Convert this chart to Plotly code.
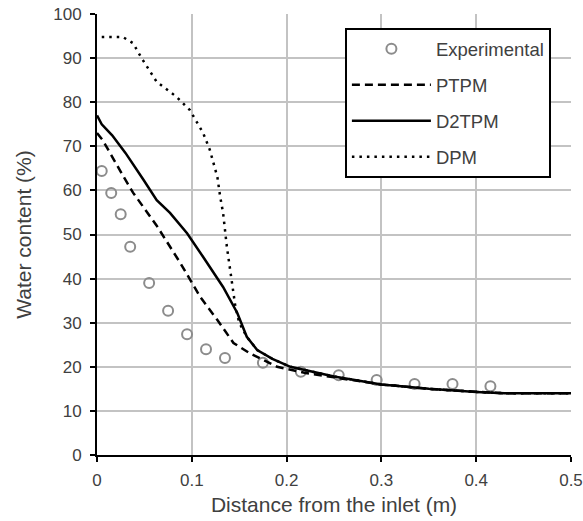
import plotly.graph_objects as go

exp_x = [0.005, 0.015, 0.025, 0.035, 0.055, 0.075, 0.095, 0.115, 0.135, 0.175, 0.215, 0.255, 0.295, 0.335, 0.375, 0.415]
exp_y = [64.4, 59.4, 54.6, 47.2, 39.0, 32.7, 27.4, 24.0, 22.0, 20.9, 18.9, 18.1, 17.0, 16.1, 16.1, 15.6]

ptpm_x = [0, 0.006, 0.027, 0.038, 0.063, 0.088, 0.109, 0.127, 0.144, 0.161, 0.19, 0.22, 0.25, 0.3, 0.35, 0.4, 0.43, 0.5]
ptpm_y = [73, 71.4, 63.5, 59.5, 52.0, 43.5, 35.8, 30.6, 25.4, 23.1, 20.0, 18.6, 17.6, 16.0, 15.0, 14.3, 14.0, 14.0]

d2tpm_x = [0, 0.005, 0.016, 0.03, 0.049, 0.063, 0.077, 0.095, 0.112, 0.133, 0.148, 0.158, 0.169, 0.185, 0.204, 0.25, 0.3, 0.35, 0.4, 0.43, 0.5]
d2tpm_y = [77, 75, 72.5, 68.5, 62.4, 57.8, 54.9, 50.3, 44.9, 38.1, 32.2, 26.8, 23.8, 21.8, 20.0, 17.8, 16.0, 15.0, 14.3, 14.0, 14.0]

dpm_x = [0.005, 0.027, 0.038, 0.047, 0.063, 0.084, 0.098, 0.112, 0.119, 0.127, 0.13, 0.133, 0.137, 0.142, 0.146, 0.15, 0.158, 0.169, 0.185, 0.204, 0.25, 0.3, 0.35, 0.4, 0.43, 0.5]
dpm_y = [94.8, 94.8, 93.4, 90.0, 84.6, 81.2, 78.2, 73.0, 69.2, 63.0, 58.5, 54.9, 47.2, 39.7, 33.6, 30.0, 26.8, 23.8, 21.8, 20.0, 17.8, 16.0, 15.0, 14.3, 14.0, 14.0]

x_ticks = [0, 0.1, 0.2, 0.3, 0.4, 0.5]
x_tick_text = ["0", "0.1", "0.2", "0.3", "0.4", "0.5"]
y_ticks = [0, 10, 20, 30, 40, 50, 60, 70, 80, 90, 100]

FONT = "Liberation Sans, Arial, sans-serif"
TXT = "#404040"
GRID = "#c3c3c3"

fig = go.Figure()
fig.add_trace(go.Scatter(x=exp_x, y=exp_y, mode="markers", name="Experimental", legendgroup="a",
                         marker=dict(symbol="circle-open", size=10, color="#8c8c8c",
                                     line=dict(width=2, color="#8c8c8c"))))
fig.add_trace(go.Scatter(x=ptpm_x, y=ptpm_y, mode="lines", name="PTPM", legendgroup="b",
                         line=dict(color="black", width=2.5, dash="8px,5px")))
fig.add_trace(go.Scatter(x=d2tpm_x, y=d2tpm_y, mode="lines", name="D2TPM", legendgroup="c",
                         line=dict(color="black", width=2.5)))
fig.add_trace(go.Scatter(x=dpm_x, y=dpm_y, mode="lines", name="DPM", legendgroup="d",
                         line=dict(color="black", width=2.5, dash="2.5px,5px")))

tick_font = dict(family=FONT, size=17, color=TXT)
fig.update_layout(
    width=583, height=521,
    margin=dict(l=97, r=12, t=14, b=66),
    plot_bgcolor="white", paper_bgcolor="white",
    font=dict(family=FONT, size=17, color=TXT),
    showlegend=True,
    legend=dict(x=0.523, y=0.968, xanchor="left", yanchor="top",
                bordercolor="black", borderwidth=2, bgcolor="white",
                itemwidth=79, tracegroupgap=9,
                font=dict(family=FONT, size=18.5, color=TXT)),
    xaxis=dict(range=[0, 0.5], tickvals=x_ticks, ticktext=x_tick_text, automargin=False,
               showgrid=True, gridcolor=GRID, gridwidth=2,
               showline=True, linecolor="black", linewidth=2,
               ticks="outside", ticklen=5, tickcolor="black", tickwidth=2,
               tickfont=tick_font, zeroline=False, ticklabelstandoff=4,
               title=dict(text="Distance from the inlet (m)", font=dict(family=FONT, size=21, color=TXT),
                          standoff=8)),
    yaxis=dict(range=[0, 100], tickvals=y_ticks, automargin=False,
               showgrid=True, gridcolor=GRID, gridwidth=2,
               showline=True, linecolor="black", linewidth=2,
               ticks="outside", ticklen=5, tickcolor="black", tickwidth=2,
               tickfont=tick_font, zeroline=False, ticklabelstandoff=5,
               title=dict(text="Water content (%)", font=dict(family=FONT, size=21, color=TXT),
                          standoff=16)),
)

fig.write_html("out.html", config={"displayModeBar": False},
               post_script="document.body.style.margin='0';document.body.style.overflow='hidden';")
